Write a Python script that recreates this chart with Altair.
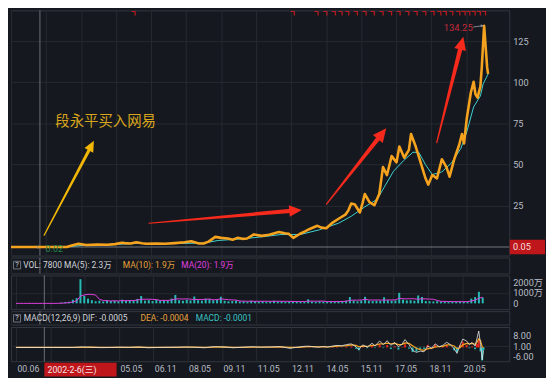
import math
import altair as alt
import pandas as pd

# ---------------- values ----------------
price_t = [2000.83, 2002.07, 2003.22, 2003.39, 2003.72, 2004.05, 2004.54, 2004.96, 2005.29, 2005.58,
           2005.70, 2005.95, 2006.20, 2006.44, 2006.61, 2007.02, 2007.43, 2007.85, 2008.26, 2008.55,
           2008.88, 2009.08, 2009.29, 2009.58, 2009.83, 2010.12, 2010.32, 2010.53, 2010.74, 2010.94,
           2011.23, 2011.56, 2011.89, 2012.30, 2012.55, 2012.72, 2012.92, 2013.21, 2013.42, 2013.62,
           2013.95, 2014.12, 2014.33, 2014.57, 2014.86, 2015.15, 2015.27, 2015.40, 2015.56, 2015.77,
           2015.89, 2015.98, 2016.18, 2016.39, 2016.60, 2016.76, 2016.93, 2017.13, 2017.34, 2017.46,
           2017.67, 2017.87, 2017.96, 2018.16, 2018.37, 2018.58, 2018.70, 2018.87, 2019.07, 2019.28,
           2019.48, 2019.61, 2019.81, 2020.02, 2020.14, 2020.23, 2020.35, 2020.52, 2020.64, 2020.72,
           2020.81, 2020.93, 2020.99, 2021.05, 2021.09, 2021.16, 2021.22, 2021.26]
price_v = [0.02, 0.03, 0.05, 0.8, 2.0, 1.3, 1.5, 1.4, 1.8, 2.6,
           2.4, 2.2, 2.9, 2.3, 2.0, 2.2, 2.0, 2.4, 2.9, 3.5,
           2.2, 2.2, 3.3, 6.2, 5.6, 5.2, 4.5, 5.6, 5.0, 5.2,
           7.7, 6.8, 7.5, 9.1, 8.4, 8.1, 5.6, 8.1, 9.5, 11.0,
           12.9, 11.8, 11.4, 14.5, 17.2, 19.7, 22.0, 26.4, 25.8, 21.0,
           27.0, 32.2, 27.3, 25.4, 32.2, 48.5, 43.7, 55.2, 51.4, 61.0,
           54.2, 59.0, 68.6, 61.0, 51.4, 41.7, 37.9, 43.7, 41.7, 53.3,
           48.4, 42.7, 53.3, 61.9, 68.6, 62.9, 78.3, 93.6, 100.3, 92.7,
           90.7, 97.5, 109.0, 124.4, 134.25, 120.5, 109.0, 105.0]

ma_t = [2000.83, 2003.31, 2004.13, 2004.96, 2006.20, 2007.43, 2009.08, 2009.70, 2010.74, 2011.56,
        2012.39, 2013.21, 2014.04, 2014.86, 2015.40, 2015.98, 2016.51, 2016.80, 2017.21, 2017.63,
        2018.04, 2018.29, 2018.58, 2018.87, 2019.28, 2019.69, 2020.10, 2020.35, 2020.64, 2020.93,
        2021.05, 2021.26]
ma_v = [0.0, 0.3, 1.3, 1.4, 2.2, 2.1, 2.4, 4.0, 5.0, 6.2,
        7.6, 7.6, 10.5, 14.5, 18.7, 24.4, 29.0, 36.0, 46.0, 52.3,
        57.5, 57.5, 50.0, 44.0, 45.6, 51.0, 60.0, 70.0, 85.0, 91.7,
        99.0, 105.0]

flag_t = [2006.06, 2012.88, 2013.90, 2014.27, 2014.64, 2014.93, 2015.22, 2015.58, 2015.95, 2016.31,
          2016.68, 2017.05, 2017.41, 2017.78, 2018.14, 2018.51, 2018.87, 2019.16, 2019.39, 2019.67,
          2019.97, 2020.19, 2020.40, 2020.62, 2020.85, 2021.07]

vol_t0 = 2000.83
vol_step = 0.1658
vol_wan = [0, 0, 0, 0, 0, 0, 0, 0, 0, 0, 0, 0,
           80, 120, 150, 350, 500, 2300, 700, 450, 300, 200,
           250, 180, 300, 220, 260, 200, 350, 240, 300, 280,
           420, 700, 260, 300, 220, 350, 250, 300, 280, 450,
           800, 300, 250, 350, 280, 650, 300, 260, 450, 400,
           300, 350, 630, 250, 200, 220, 260, 180, 200, 150,
           250, 200, 180, 220, 160, 200, 240, 180, 200, 150,
           170, 200, 160, 180, 150, 380, 180, 150, 200, 170,
           150, 180, 160, 200, 220, 250, 600, 260, 200, 280,
           620, 250, 220, 260, 240, 580, 300, 260, 280, 1000,
           350, 280, 300, 250, 750, 600, 220, 200, 180, 200,
           160, 180, 150, 170, 160, 180, 150, 170, 450, 600,
           1100, 550]

macd_t = [2000.83, 2002.07, 2003.31, 2003.72, 2004.13, 2004.54, 2004.96, 2005.37, 2005.78, 2006.20,
          2006.61, 2007.02, 2007.43, 2007.85, 2008.26, 2008.67, 2009.08, 2009.50, 2009.91, 2010.32,
          2010.74, 2011.15, 2011.56, 2011.97, 2012.39, 2012.80, 2013.21, 2013.42, 2013.62, 2013.83,
          2014.04, 2014.24, 2014.45, 2014.66, 2014.86, 2015.07, 2015.27, 2015.48, 2015.69, 2015.81,
          2015.98, 2016.18, 2016.39, 2016.51, 2016.72, 2016.88, 2017.05, 2017.21, 2017.38, 2017.54,
          2017.71, 2017.83, 2018.00, 2018.16, 2018.33, 2018.49, 2018.66, 2018.82, 2018.99, 2019.15,
          2019.32, 2019.48, 2019.65, 2019.81, 2019.98, 2020.10, 2020.23, 2020.35, 2020.52, 2020.64,
          2020.76, 2020.89, 2020.97, 2021.05, 2021.13, 2021.20, 2021.26]
macd_dif = [0, 0, 0, 0.4, 0.1, -0.1, 0, 0.2, 0.1, 0.3,
            -0.2, 0, 0.1, 0.2, 0.3, 0.1, -0.2, 0.6, 0.3, -0.2,
            0.2, 0.5, 0.2, 0.4, 0.6, -0.6, 0.4, 0.8, 0.9, 0.5,
            0.2, 0.7, 0.3, 1.0, 1.4, 1.2, 2.0, 2.5, 0.5, -1.5,
            1.8, 0.2, 3.0, 1.0, 4.5, 2.0, 4.7, 1.5, 3.5, 0.5,
            2.5, 5.5, 2.0, -2.0, -3.4, -2.5, -3.0, 1.0, -0.5, 2.5,
            0.5, 1.5, 3.6, 2.0, -1.0, -4.1, 1.5, 5.8, 4.5, 2.0,
            3.5, 1.0, 6.0, 11.4, 2.0, -8.5, -2.0]
macd_dea = [0, 0, 0, 0.1, 0.2, 0.1, 0, 0.1, 0.1, 0.2,
            0.05, 0, 0.05, 0.1, 0.2, 0.2, 0, 0.3, 0.4, 0.1,
            0.1, 0.3, 0.3, 0.3, 0.4, 0, 0.1, 0.4, 0.6, 0.6,
            0.4, 0.5, 0.4, 0.6, 0.9, 1.0, 1.3, 1.8, 1.4, 0.5,
            0.9, 0.7, 1.5, 1.4, 2.5, 2.4, 3.0, 2.6, 2.8, 2.0,
            2.2, 3.2, 2.8, 1.2, -0.5, -1.5, -2.0, -0.8, -0.6, 0.4,
            0.5, 0.8, 1.8, 1.9, 1.0, -0.8, -0.2, 1.8, 2.8, 2.5,
            2.8, 2.2, 3.5, 6.0, 4.7, 0.5, -0.3]

x_tick_values = [2000.83, 2002.33, 2003.83, 2005.33, 2006.83, 2008.33, 2009.83,
                 2011.33, 2012.83, 2014.33, 2015.83, 2017.33, 2018.83, 2020.33]
x_tick_labels = ["00.06", "", "", "05.05", "06.11", "08.05", "09.11",
                 "11.05", "12.11", "14.05", "15.11", "17.05", "18.11", "20.05"]
price_ticks = [25, 50, 75, 100, 125]
vol_ticks = [0, 1000, 2000]
macd_ticks = [8, 1, -6]

cross_t = 2002.07
cross_price = 0.05
cross_date_label = "2002-2-6(三)"
low_t, low_v, low_label = 2001.95, 0.02, "0.02"
high_t, high_v, high_label = 2021.09, 134.25, "134.25"
note_t, note_v, note_text = 2002.73, 76.1, "段永平买入网易"

arrow_tail_t = [2002.25, 2006.74, 2014.34, 2019.06]
arrow_tail_v = [7.15, 14.47, 26.0, 63.3]
arrow_tip_t = [2004.38, 2013.28, 2016.90, 2020.20]
arrow_tip_v = [64.44, 22.54, 72.1, 127.6]

vol_header = ["VOL: 7800 MA(5): 2.3万", "MA(10): 1.9万", "MA(20): 1.9万"]
macd_header = ["MACD(12,26,9) DIF: -0.0005", "DEA: -0.0004", "MACD: -0.0001"]

# ---------------- style / layout ----------------
FONT = "Roboto, 'Noto Sans CJK SC', sans-serif"
BG = "#15181e"
GRID = "#262a31"
BORDER = "#33373f"
LABEL = "#b8bcc4"
ORANGE = "#f5a31f"
CYAN = "#3fd2d2"
TEAL = "#27b9b6"
MAGENTA = "#e03ee0"
RED = "#e3261c"
BOXRED = "#bf161c"
YELLOW = "#f2b705"
ARROWRED = "#f52a1c"
CROSS = "#80848c"

W = 502
H_MAIN, H_VH, H_VOL, H_MH, H_MACD, X_AX = 247, 16, 34, 13.5, 34.5, 17
RIGHT = 36
XDOM = [2000.83, 2022.167]
YDOM = [-5.13, 143.6]
VDOM = [-550, 2660]
MDOM = [-9.57, 14.2]

labels_js = "[" + ",".join("'%s'" % s for s in x_tick_labels) + "]"
values_js = "[" + ",".join(str(v) for v in x_tick_values) + "]"


def x_axis(bottom):
    common = dict(values=x_tick_values, grid=True, gridColor=GRID, gridWidth=1,
                  ticks=False, tickSize=0, domain=False, title=None)
    if bottom:
        return alt.Axis(**common, labels=True,
                        labelExpr=f"{labels_js}[indexof({values_js}, datum.value)]",
                        labelAlign="left", labelBaseline="middle", labelPadding=7.6,
                        labelOffset=1, labelColor=LABEL, labelFont=FONT, labelFontSize=8.8,
                        labelFlush=False, labelOverlap=False, labelBound=False,
                        minExtent=X_AX, maxExtent=X_AX)
    return alt.Axis(**common, labels=False, minExtent=0, maxExtent=0)


def X(bottom=False):
    return alt.X("t:Q", scale=alt.Scale(domain=XDOM, nice=False, zero=False), axis=x_axis(bottom))


def y_axis(values, expr=None, grid_value=None):
    d = dict(orient="right", values=values, labelAlign="left", labelBaseline="middle",
             labelPadding=3.5, labelColor=LABEL, labelFont=FONT, labelFontSize=9.2,
             ticks=False, tickSize=0, domain=False, title=None, grid=True, gridColor=GRID,
             minExtent=RIGHT, maxExtent=RIGHT, labelOverlap=False, labelFlush=False)
    if expr:
        d["labelExpr"] = expr
    if grid_value is not None:
        d["gridOpacity"] = {"condition": {"test": f"datum.value === {grid_value}", "value": 1}, "value": 0}
    return alt.Axis(**d)


def Yf(field, dom, axis):
    return alt.Y(field, scale=alt.Scale(domain=dom, nice=False, zero=False), axis=axis)


main_axis = y_axis(price_ticks)
vol_axis = y_axis(vol_ticks, expr="datum.value == 0 ? '0' : datum.value + '万'", grid_value=1000)
macd_axis = y_axis(macd_ticks, expr="replace(format(datum.value, '.2f'), '\u2212', '-')", grid_value=1)

# ---------------- main price panel ----------------
price_df = pd.DataFrame({"t": price_t, "v": price_v})
ma_df = pd.DataFrame({"t": ma_t, "v": ma_v})
cross_df = pd.DataFrame({"t": [cross_t], "v": [cross_price], "s": [cross_date_label]})
ym = Yf("v:Q", YDOM, main_axis)

hline = alt.Chart(cross_df).mark_rule(color="#8c9098", strokeWidth=0.8).encode(y=ym)
vline = alt.Chart(cross_df).mark_rule(color=CROSS, strokeWidth=0.8).encode(x=X())
ma_line = alt.Chart(ma_df).mark_line(color=CYAN, strokeWidth=1).encode(x=X(), y=ym)
price_line = alt.Chart(price_df).mark_line(color=ORANGE, strokeWidth=2.6, strokeJoin="round").encode(x=X(), y=ym)

# small red flag markers along the top edge
flags = alt.Chart(pd.DataFrame({"t": flag_t})).mark_text(
    text="ㄱ", font="'Noto Sans CJK KR'", fontSize=7, fontWeight="bold", color="#de1a1f",
    baseline="middle").encode(x=X(), y=alt.value(4.0))

# arrows: shaft as tapered trail, head as rotated triangle
PX_T = W / (XDOM[1] - XDOM[0])
PX_V = H_MAIN / (YDOM[1] - YDOM[0])
arrow_col = [YELLOW, ARROWRED, ARROWRED, ARROWRED]
arrow_unit = [9, 10.5, 11.5, 11]
arrow_base_w = [3.2, 4.3, 4.5, 4.5]
shaft_rows, head_rows = [], []
for i in range(4):
    t0, v0, t1, v1 = arrow_tail_t[i], arrow_tail_v[i], arrow_tip_t[i], arrow_tip_v[i]
    dx = (t1 - t0) * PX_T
    dy = (v1 - v0) * PX_V
    L = math.hypot(dx, dy)
    f = 1 - 1.05 * arrow_unit[i] / L
    shaft_rows.append(dict(id=i, seq=0, t=t0, v=v0, w=1.2, col=arrow_col[i]))
    shaft_rows.append(dict(id=i, seq=1, t=t0 + f * (t1 - t0), v=v0 + f * (v1 - v0),
                           w=arrow_base_w[i], col=arrow_col[i]))
    head_rows.append(dict(t=t1, v=v1, ang=math.degrees(math.atan2(dx, dy)) % 360,
                          sz=(2 * arrow_unit[i]) ** 2, col=arrow_col[i]))

shafts = alt.Chart(pd.DataFrame(shaft_rows)).mark_trail().encode(
    x=X(), y=ym, size=alt.Size("w:Q", scale=None), color=alt.Color("col:N", scale=None),
    detail="id:N", order="seq:Q")
heads = alt.Chart(pd.DataFrame(head_rows)).mark_point(
    shape="M0,0L0.55,1.2L-0.55,1.2Z", filled=True, opacity=1, strokeWidth=0).encode(
    x=X(), y=ym, angle=alt.Angle("ang:Q", scale=None), size=alt.Size("sz:Q", scale=None),
    color=alt.Color("col:N", scale=None))

note = alt.Chart(pd.DataFrame({"t": [note_t], "v": [note_v], "s": [note_text]})).mark_text(
    align="left", baseline="middle", color="#d8a51c", fontSize=14.5,
    font="'Noto Sans CJK SC'").encode(x=X(), y=ym, text="s:N")

low_df = pd.DataFrame({"t": [low_t], "v": [low_v], "s": [low_label]})
low_arrow = alt.Chart(low_df).mark_text(text="‹", align="left", baseline="middle", dx=-1,
                                        color="#8b8f97", fontSize=9, font=FONT).encode(x=X(), y=ym)
low_text = alt.Chart(low_df).mark_text(align="left", baseline="middle", dx=8.5, dy=2,
                                       color="#1f8a4c", fontSize=9, font=FONT).encode(x=X(), y=ym, text="s:N")

high_df = pd.DataFrame({"t": [high_t], "v": [high_v], "s": [high_label]})
high_text = alt.Chart(high_df).mark_text(align="right", baseline="middle", dx=-11.5, dy=1.8,
                                         color="#c42a3a", fontSize=9.5, font=FONT).encode(x=X(), y=ym, text="s:N")
high_rule = alt.Chart(high_df).mark_rule(color="#9a9ea6", strokeWidth=0.8, xOffset=-11, x2Offset=-1.5,
                                         yOffset=1.2, y2Offset=0).encode(
    x=X(), x2=alt.X2("t:Q"), y=ym, y2=alt.Y2("v:Q"))
high_head = alt.Chart(high_df).mark_point(shape="triangle-right", size=10, filled=True, opacity=1,
                                          color="#9a9ea6", xOffset=-2).encode(x=X(), y=ym)

price_box = alt.Chart(cross_df).mark_rect(color=BOXRED, yOffset=-7.3, y2Offset=7.3).encode(
    x=alt.value(W + 0.5), x2=alt.value(W + RIGHT), y=ym, y2=alt.Y2("v:Q"))
price_box_text = alt.Chart(cross_df).mark_text(align="left", baseline="middle", color="#f3dede",
                                               fontSize=9.2, font=FONT).encode(
    x=alt.value(W + 3.8), y=ym, text=alt.Text("v:Q", format=".2f"))

main = alt.layer(vline, hline, ma_line, price_line, flags, shafts, heads, note,
                 low_arrow, low_text, high_rule, high_head, high_text,
                 price_box, price_box_text).properties(width=W, height=H_MAIN)


# ---------------- header strips ----------------
def header(h, texts, xs, colors, ty, by0, by1):
    base = alt.Chart(cross_df)
    layers = [base.mark_rule(color=CROSS, strokeWidth=0.8).encode(x=X())]
    layers.append(base.mark_rect(fillOpacity=0, stroke="#8b8f97", strokeWidth=0.8).encode(
        x=alt.value(2.6), x2=alt.value(9.7), y=alt.value(by0), y2=alt.value(by1)))
    layers.append(base.mark_text(text="?", align="center", baseline="middle", color="#d0d3da",
                                 fontSize=7.5, font=FONT).encode(x=alt.value(6.15), y=alt.value((by0 + by1) / 2)))
    for s, x, c in zip(texts, xs, colors):
        layers.append(base.mark_text(text=s, align="left", baseline="middle", color=c,
                                     fontSize=8.5, font=FONT).encode(x=alt.value(x), y=alt.value(ty)))
    return alt.layer(*layers).properties(width=W, height=h)


vol_head = header(H_VH, vol_header, [12.3, 112.6, 171.6], ["#d0d3da", "#e8a33c", MAGENTA], 7.7, 3.8, 11.5)
macd_head = header(H_MH, macd_header, [12.9, 130.4, 186.1], ["#d0d3da", "#e8a33c", "#3cc4c4"], 7.0, 3.6, 11.0)

# ---------------- volume panel ----------------
vol_t = [round(vol_t0 + vol_step * i, 4) for i in range(len(vol_wan))]
vol_df = pd.DataFrame({"t": vol_t, "vol": vol_wan})
vol_bars = alt.Chart(vol_df).mark_bar(color=TEAL, size=2.0, orient="vertical").encode(
    x=X(), y=Yf("vol:Q", VDOM, vol_axis), y2=alt.datum(0))
vol_ma = alt.Chart(vol_df).transform_window(
    ma="mean(vol)", frame=[-4, 0], sort=[alt.SortField("t")]).mark_line(
    color=MAGENTA, strokeWidth=1).encode(x=X(), y=Yf("ma:Q", VDOM, vol_axis))
vol_cross = alt.Chart(cross_df).mark_rule(color=CROSS, strokeWidth=0.8).encode(x=X())
vol = alt.layer(vol_cross, vol_bars, vol_ma).properties(width=W, height=H_VOL)

# ---------------- MACD panel ----------------
macd_df = pd.DataFrame({"t": macd_t, "dif": macd_dif, "dea": macd_dea})
hist = alt.Chart(macd_df).transform_calculate(hist="datum.dif - datum.dea").mark_bar(
    size=2, orient="vertical").encode(
    x=X(True), y=Yf("hist:Q", MDOM, macd_axis), y2=alt.datum(0),
    color=alt.condition("datum.hist >= 0", alt.value(RED), alt.value(TEAL)))
dea_line = alt.Chart(macd_df).mark_line(color=ORANGE, strokeWidth=1.2).encode(
    x=X(True), y=Yf("dea:Q", MDOM, macd_axis))
dif_line = alt.Chart(macd_df).mark_line(color="#e6e6e6", strokeWidth=0.8).encode(
    x=X(True), y=Yf("dif:Q", MDOM, macd_axis))
macd_cross = alt.Chart(cross_df).mark_rule(color=CROSS, strokeWidth=0.8).encode(x=X(True))
date_box = alt.Chart(cross_df).mark_rect(color=BOXRED, x2Offset=72.8).encode(
    x=X(True), x2=alt.X2("t:Q"), y=alt.value(H_MACD + 1.6), y2=alt.value(H_MACD + 15.3))
date_text = alt.Chart(cross_df).mark_text(align="left", baseline="middle", dx=3.2, color="#f6e4e4",
                                          fontSize=8.8, font=FONT).encode(
    x=X(True), y=alt.value(H_MACD + 8.4), text="s:N")
macd = alt.layer(macd_cross, hist, dea_line, dif_line, date_box, date_text).properties(width=W, height=H_MACD)

chart = alt.vconcat(main, vol_head, vol, macd_head, macd, spacing=0).properties(
    padding=0, background=BG).configure_view(stroke=BORDER, strokeWidth=1).configure_concat(spacing=0)

chart.save("out.html", embed_options={"renderer": "svg", "actions": False})
